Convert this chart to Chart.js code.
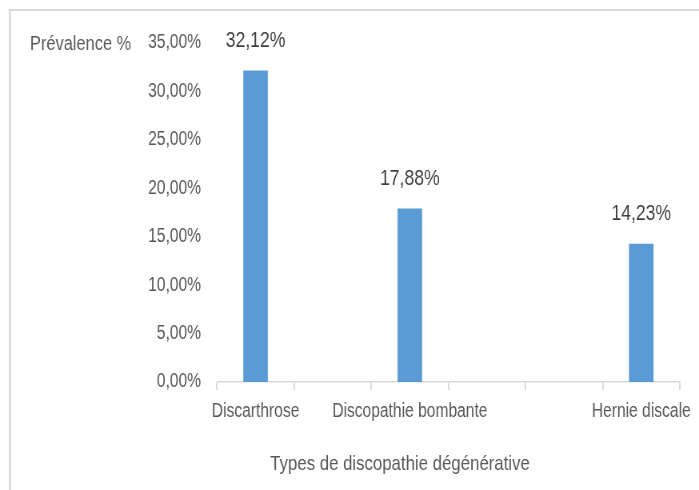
<!DOCTYPE html>
<html>
<head>
<meta charset="utf-8">
<script src="https://cdn.jsdelivr.net/npm/chart.js@4"></script>
<style>
  html, body { margin: 0; padding: 0; background: #fff; }
  /* le graphique d'origine est comprimé horizontalement : on dessine plus large puis on réduit */
  #discoChart { width: 699px; height: 490px; display: block; }
</style>
</head>
<body>
<canvas id="discoChart" width="874" height="490" style="width:699px;height:490px"></canvas>
<script>
  // Données (catégories vides = emplacements sans barre)
  const categories = ['Discarthrose', '', 'Discopathie bombante', '', '', 'Hernie discale'];
  const prevalence = [32.12, null, 17.88, null, null, 14.23];
  const yTicks = [0, 5, 10, 15, 20, 25, 30, 35];

  const FONT = '"Liberation Sans", Arial, sans-serif';
  const SX = 874 / 699; // facteur de l'échelle horizontale

  const fmt = (v) => v.toFixed(2).replace('.', ',') + '%';

  // cadre, titres et étiquettes de données
  const extras = {
    id: 'extras',
    beforeDraw(chart) {
      const ctx = chart.ctx;
      ctx.save();
      ctx.fillStyle = '#fff';
      ctx.fillRect(0, 0, chart.width, chart.height);
      ctx.fillStyle = '#d9d9d9';
      ctx.fillRect(9 * SX, 9, 2 * SX, chart.height);
      ctx.fillRect(9 * SX, 9, chart.width, 2);
      ctx.restore();
    },
    afterDatasetsDraw(chart) {
      const ctx = chart.ctx;
      const y = chart.scales.y;
      ctx.save();
      // titre de l'axe Y
      ctx.font = '20.5px ' + FONT;
      ctx.fillStyle = '#595959';
      ctx.textAlign = 'left';
      ctx.textBaseline = 'middle';
      ctx.fillText('Prévalence %', 30 * SX, y.getPixelForValue(35) + 1);
      // titre de l'axe X
      ctx.font = '21px ' + FONT;
      ctx.textAlign = 'center';
      ctx.fillText('Types de discopathie dégénérative', 400 * SX, 464);
      // étiquettes de données
      ctx.font = '22px ' + FONT;
      ctx.fillStyle = '#404040';
      chart.getDatasetMeta(0).data.forEach((bar, i) => {
        const v = prevalence[i];
        if (v == null) return;
        ctx.fillText(fmt(v), bar.x, bar.y - 30);
      });
      ctx.restore();
    }
  };

  const config = {
    type: 'bar',
    data: {
      labels: categories,
      datasets: [{
        label: 'Prévalence %',
        data: prevalence,
        backgroundColor: '#5b9bd5',
        borderWidth: 0,
        barThickness: 24 * SX,
      }],
    },
    options: {
      responsive: false,
      animation: false,
      devicePixelRatio: 1,
      layout: { padding: { top: 43, right: Math.round(19 * SX), left: 0, bottom: 0 } },
      scales: {
        x: {
          grid: {
            offset: true,
            drawOnChartArea: false,
            drawTicks: true,
            tickLength: 8,
            color: '#d9d9d9',
            lineWidth: 1.5 * SX,
          },
          border: { color: '#d9d9d9', width: 1.5 },
          ticks: {
            autoSkip: false,
            maxRotation: 0,
            padding: 10,
            color: '#595959',
            font: { family: FONT, size: 19.5 },
          },
          afterFit(scale) {
            scale.height = 108;
            scale.paddingLeft = 0;
            scale.paddingRight = 0;
          },
        },
        y: {
          min: 0,
          max: 35,
          grid: { display: false, drawTicks: false },
          border: { display: false },
          afterBuildTicks(scale) { scale.ticks = yTicks.map(v => ({ value: v })); },
          ticks: {
            padding: 16 * SX,
            color: '#595959',
            font: { family: FONT, size: 19.5 },
            callback: (v) => fmt(v),
          },
          afterFit(scale) {
            scale.width = 217 * SX;
            scale.paddingTop = 0;
            scale.paddingBottom = 0;
          },
        },
      },
      plugins: {
        legend: { display: false },
        tooltip: { enabled: false },
      },
    },
    plugins: [extras],
  };

  const ctx = document.getElementById('discoChart').getContext('2d');
  new Chart(ctx, config);
</script>
</body>
</html>
